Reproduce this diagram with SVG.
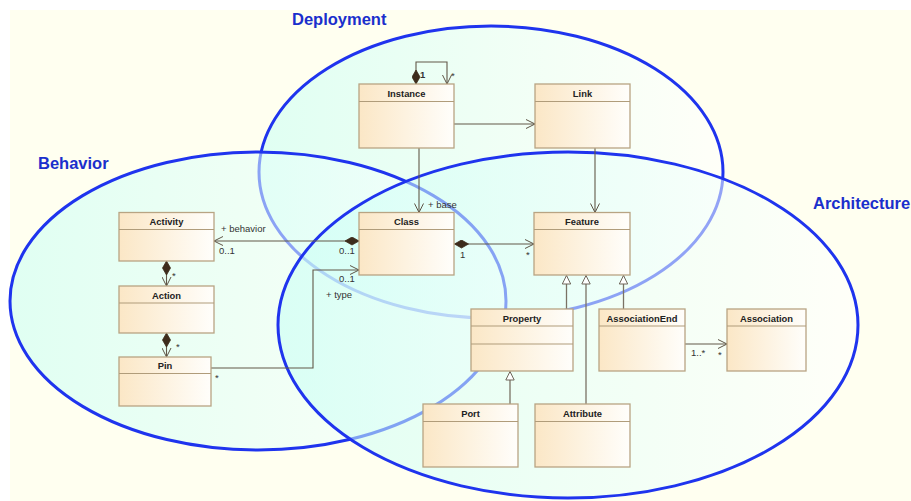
<svg xmlns="http://www.w3.org/2000/svg" width="911" height="501" viewBox="0 0 911 501">
  <defs>
    <linearGradient id="regionFill" x1="0" y1="0" x2="1" y2="0">
      <stop offset="0" stop-color="#c6fff4"/>
      <stop offset="1" stop-color="#ffffff"/>
    </linearGradient>
    <linearGradient id="boxFill" x1="0" y1="0" x2="1" y2="0">
      <stop offset="0" stop-color="#fbe7c6"/>
      <stop offset="1" stop-color="#fffefb"/>
    </linearGradient>
    <marker id="open" viewBox="0 0 10 10" refX="9.5" refY="5" markerWidth="10" markerHeight="10" markerUnits="userSpaceOnUse" orient="auto">
      <path d="M0.5,0.5 L9.5,5 L0.5,9.5" fill="none" stroke="#5e5446" stroke-width="1"/>
    </marker>
    <marker id="diamond" viewBox="0 0 15 9" refX="0.5" refY="4.5" markerWidth="15" markerHeight="9" markerUnits="userSpaceOnUse" orient="auto">
      <path d="M0.5,4.5 L7.5,0.5 L14.5,4.5 L7.5,8.5 Z" fill="#3d2c1c" stroke="#3d2c1c" stroke-width="0.8"/>
    </marker>
    <marker id="hollow" viewBox="0 0 10 10" refX="9.5" refY="5" markerWidth="10" markerHeight="10" markerUnits="userSpaceOnUse" orient="auto">
      <path d="M1,0.8 L9.5,5 L1,9.2 Z" fill="#ffffff" stroke="#6e665a" stroke-width="1"/>
    </marker>
  </defs>
  <style>
    .region { fill: url(#regionFill); fill-opacity: 0.55; stroke: #1f34ee; stroke-width: 3; }
    .title { font-family: "Liberation Sans", Arial, sans-serif; font-weight: bold; font-size: 16.5px; fill: #1b2fcc; }
    .box { fill: url(#boxFill); stroke: #b8a483; stroke-width: 1.3; }
    .sep { stroke: #b09c7a; stroke-width: 1.2; }
    .name { font-family: "Liberation Sans", Arial, sans-serif; font-weight: bold; font-size: 9.4px; fill: #222222; text-anchor: middle; }
    .edge { fill: none; stroke: #625848; stroke-width: 1.1; }
    .gen { fill: none; stroke: #7a7264; stroke-width: 1.3; }
    .lbl { font-family: "Liberation Sans", Arial, sans-serif; font-size: 9.5px; fill: #333333; }
  </style>

  <!-- canvas -->
  <rect x="0" y="0" width="911" height="501" fill="#ffffff"/>
  <rect x="10" y="10" width="901" height="491" fill="#fffff0"/>

  <!-- overlapping concern regions -->
  <g id="regions">
    <ellipse id="region-deployment" class="region" cx="491" cy="172" rx="232" ry="146"/>
    <ellipse id="region-behavior" class="region" cx="258" cy="301" rx="248" ry="149"/>
    <ellipse id="region-architecture" class="region" cx="568" cy="325" rx="290" ry="173"/>
  </g>
  <text class="title" x="292" y="25">Deployment</text>
  <text class="title" x="38" y="169">Behavior</text>
  <text class="title" x="813" y="209">Architecture</text>

  <!-- connectors -->
  <g id="connectors">
    <!-- Instance self association -->
    <path class="edge" d="M416,84 V62 H447 V84" marker-start="url(#diamond)" marker-end="url(#open)"/>
    <!-- Instance to Link -->
    <path class="edge" d="M454,124 H535" marker-end="url(#open)"/>
    <!-- Instance to Class (base) -->
    <path class="edge" d="M419,148 V212.5" marker-end="url(#open)"/>
    <!-- Link to Feature -->
    <path class="edge" d="M595,148 V212.5" marker-end="url(#open)"/>
    <!-- Class owns Feature -->
    <path class="edge" d="M454.5,244 H534" marker-start="url(#diamond)" marker-end="url(#open)"/>
    <!-- Class to Activity (behavior) -->
    <path class="edge" d="M359,241 H214" marker-start="url(#diamond)" marker-end="url(#open)"/>
    <!-- Pin to Class (type) -->
    <path class="edge" d="M211,368 H313 V270 H359" stroke="#8a857c" stroke-width="1.4" marker-end="url(#open)"/>
    <!-- Activity owns Action -->
    <path class="edge" d="M166.5,261 V286" marker-start="url(#diamond)" marker-end="url(#open)"/>
    <!-- Action owns Pin -->
    <path class="edge" d="M166.5,333 V357" marker-start="url(#diamond)" marker-end="url(#open)"/>
    <!-- AssociationEnd to Association -->
    <path class="edge" d="M685,344 H727" marker-end="url(#open)"/>
    <!-- generalizations -->
    <path class="gen" d="M566.5,309 V275.5" marker-end="url(#hollow)"/>
    <path class="gen" d="M586,404 V275.5" marker-end="url(#hollow)"/>
    <path class="gen" d="M623.5,309 V275.5" marker-end="url(#hollow)"/>
    <path class="gen" d="M510,404 V371.5" marker-end="url(#hollow)"/>
  </g>

  <!-- connector labels -->
  <g id="labels">
    <text class="lbl" x="420" y="78" font-weight="bold">1</text>
    <text class="lbl" x="451" y="79">*</text>
    <text class="lbl" x="428" y="208">+ base</text>
    <text class="lbl" x="221" y="232">+ behavior</text>
    <text class="lbl" x="219" y="254">0..1</text>
    <text class="lbl" x="339" y="254">0..1</text>
    <text class="lbl" x="339" y="282">0..1</text>
    <text class="lbl" x="326" y="298">+ type</text>
    <text class="lbl" x="460" y="258">1</text>
    <text class="lbl" x="526" y="258">*</text>
    <text class="lbl" x="172" y="279">*</text>
    <text class="lbl" x="176" y="350">*</text>
    <text class="lbl" x="215" y="381">*</text>
    <text class="lbl" x="691" y="356">1..*</text>
    <text class="lbl" x="718" y="358">*</text>
  </g>

  <!-- classes -->
  <g id="Instance">
    <rect class="box" x="359" y="84" width="95" height="64"/>
    <line class="sep" x1="359" y1="101.5" x2="454" y2="101.5"/>
    <text class="name" x="406.5" y="96.5">Instance</text>
  </g>
  <g id="Link">
    <rect class="box" x="535" y="84" width="95" height="64"/>
    <line class="sep" x1="535" y1="101.5" x2="630" y2="101.5"/>
    <text class="name" x="582.5" y="96.5">Link</text>
  </g>
  <g id="Class">
    <rect class="box" x="359" y="212.5" width="95" height="62.5"/>
    <line class="sep" x1="359" y1="229.5" x2="454" y2="229.5"/>
    <text class="name" x="406.5" y="225">Class</text>
  </g>
  <g id="Feature">
    <rect class="box" x="534" y="212.5" width="96" height="62.5"/>
    <line class="sep" x1="534" y1="229.5" x2="630" y2="229.5"/>
    <text class="name" x="582" y="225">Feature</text>
  </g>
  <g id="Activity">
    <rect class="box" x="119" y="212.5" width="95" height="48.5"/>
    <line class="sep" x1="119" y1="229.5" x2="214" y2="229.5"/>
    <text class="name" x="166.5" y="225">Activity</text>
  </g>
  <g id="Action">
    <rect class="box" x="119" y="286" width="95" height="47"/>
    <line class="sep" x1="119" y1="303" x2="214" y2="303"/>
    <text class="name" x="166.5" y="298.5">Action</text>
  </g>
  <g id="Pin">
    <rect class="box" x="119" y="357" width="92" height="49"/>
    <line class="sep" x1="119" y1="373.5" x2="211" y2="373.5"/>
    <text class="name" x="165" y="369">Pin</text>
  </g>
  <g id="Property">
    <rect class="box" x="471" y="309" width="102" height="62"/>
    <line class="sep" x1="471" y1="326" x2="573" y2="326"/>
    <line class="sep" x1="471" y1="344" x2="573" y2="344"/>
    <text class="name" x="522" y="321.5">Property</text>
  </g>
  <g id="AssociationEnd">
    <rect class="box" x="599" y="309" width="86" height="62"/>
    <line class="sep" x1="599" y1="326" x2="685" y2="326"/>
    <text class="name" x="642" y="321.5">AssociationEnd</text>
  </g>
  <g id="Association">
    <rect class="box" x="727" y="309" width="79" height="62"/>
    <line class="sep" x1="727" y1="326" x2="806" y2="326"/>
    <text class="name" x="766.5" y="321.5">Association</text>
  </g>
  <g id="Port">
    <rect class="box" x="423" y="404" width="95" height="63"/>
    <line class="sep" x1="423" y1="421.5" x2="518" y2="421.5"/>
    <text class="name" x="470.5" y="416.5">Port</text>
  </g>
  <g id="Attribute">
    <rect class="box" x="535" y="404" width="95" height="63"/>
    <line class="sep" x1="535" y1="421.5" x2="630" y2="421.5"/>
    <text class="name" x="582.5" y="416.5">Attribute</text>
  </g>
</svg>
